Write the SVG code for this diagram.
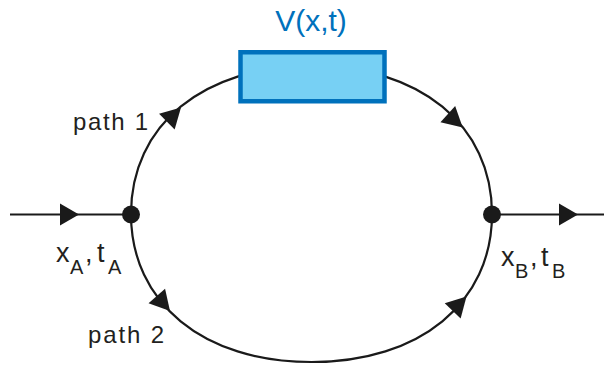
<svg xmlns="http://www.w3.org/2000/svg" width="604" height="367" viewBox="0 0 604 367">
<style>
.ln{fill:none;stroke:#1a1a1a;stroke-width:2.2}
.ah{fill:#1a1a1a;stroke:none}
.dot{fill:#1a1a1a}
.lbl{font-family:"Liberation Sans",Arial,sans-serif;fill:#231f20}
.vlbl{font-family:"Liberation Sans",Arial,sans-serif;fill:#0071bc;font-size:30px}
</style>
<g id="connectors">
<path class="ln" d="M131,214 C131,125.2 203.2,66 311.5,66 C419.8,66 492,125.2 492,214 C492,302.8 419.8,362 311.5,362 C203.2,362 131,302.8 131,214 Z"/>
<line class="ln" x1="10" y1="214.5" x2="131" y2="214.5"/>
<line class="ln" x1="492" y1="214.5" x2="604" y2="214.5"/>
<polygon class="ah" points="0,0 -19,-11 -19,11" transform="translate(79,214.5)"/>
<polygon class="ah" points="0,0 -19,-11 -19,11" transform="translate(578,214.5)"/>
<polygon class="ah" points="0,0 -20,-11 -20,11" transform="translate(181,107.5) rotate(-45)"/>
<polygon class="ah" points="0,0 -20,-11 -20,11" transform="translate(462.7,127.5) rotate(41.9)"/>
<polygon class="ah" points="0,0 -20,-11 -20,11" transform="translate(170,311) rotate(48.7)"/>
<polygon class="ah" points="0,0 -20,-11 -20,11" transform="translate(466.5,296.5) rotate(-46.3)"/>
<text class="lbl" x="73" y="130" font-size="24" textLength="75" lengthAdjust="spacing">path 1</text>
<text class="lbl" x="88" y="343" font-size="24" textLength="76" lengthAdjust="spacing">path 2</text>
</g>
<g id="potential">
<rect x="240.5" y="52.25" width="144" height="49" fill="#77d0f4" stroke="#0071bc" stroke-width="4.5"/>
<text class="vlbl" x="311" y="31" text-anchor="middle">V(x,t)</text>
</g>
<g id="nodeA">
<circle class="dot" cx="131" cy="214.5" r="9"/>
<text class="lbl" font-size="27"><tspan x="56" y="262">x</tspan><tspan x="70" y="274" font-size="20">A</tspan><tspan x="85" y="262">,</tspan><tspan x="97" y="262">t</tspan><tspan x="108" y="274" font-size="20">A</tspan></text>
</g>
<g id="nodeB">
<circle class="dot" cx="492" cy="214.5" r="9"/>
<text class="lbl" font-size="27"><tspan x="501" y="266">x</tspan><tspan x="515" y="278" font-size="20">B</tspan><tspan x="530" y="266">,</tspan><tspan x="541" y="266">t</tspan><tspan x="552" y="278" font-size="20">B</tspan></text>
</g>
</svg>
